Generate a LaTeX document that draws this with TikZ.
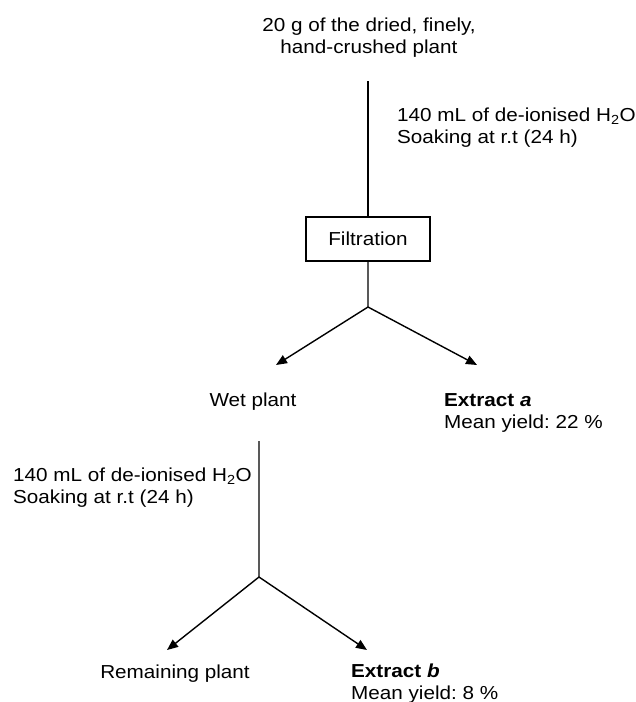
\documentclass[tikz,border=0pt]{standalone}
\usepackage{fontspec}
\setmainfont{Liberation Sans}[FakeStretch=1.1]
\usetikzlibrary{arrows.meta}
\frenchspacing
\begin{document}
\begin{tikzpicture}[x=1pt,y=-1pt,
  font=\fontsize{18.8}{22}\selectfont,
  lbl/.style={inner sep=0pt, align=left},
  conn/.style={line width=1.4pt},
  arr/.style={conn,-{Triangle[length=11pt,width=9pt]}},
  procbox/.style={draw, line width=1.4pt, minimum width=124pt, minimum height=44pt, inner sep=0pt}]
\useasboundingbox (0,0) rectangle (636,702);

% texts (multi-line nodes: base anchor = baseline of last line)
\node[lbl, align=center, anchor=base] (plant) at (369,53) {20 g of the dried, finely,\\hand-crushed plant};
\node[lbl, anchor=base west] (water1) at (397,143) {140 mL of de-ionised H\textsubscript{2}O\\Soaking at r.t (24 h)};
\node[procbox] (filt) at (368,239) {Filtration};
\node[lbl, anchor=base] (wet) at (253,406) {Wet plant};
\node[lbl, anchor=base west] (exa) at (444,428) {\textbf{Extract \textit{a}}\\Mean yield: 22 \%};
\node[lbl, anchor=base west] (water2) at (13,503) {140 mL of de-ionised H\textsubscript{2}O\\Soaking at r.t (24 h)};
\node[lbl, anchor=base] (rem) at (175,678) {Remaining plant};
\node[lbl, anchor=base west] (exb) at (351,699) {\textbf{Extract \textit{b}}\\Mean yield: 8 \%};

% connectors
\coordinate (s1) at (368,81);
\coordinate (b1) at (368,307);
\coordinate (t1) at (276,365);
\coordinate (t2) at (477,365);
\draw[conn] (s1) -- (filt.north);
\draw[arr] (filt.south) -- (b1) -- (t1);
\draw[arr] (b1) -- (t2);

\coordinate (s2) at (259,441);
\coordinate (b2) at (259,577);
\coordinate (t3) at (167,650);
\coordinate (t4) at (367,650);
\draw[arr] (s2) -- (b2) -- (t3);
\draw[arr] (b2) -- (t4);
\end{tikzpicture}
\end{document}
